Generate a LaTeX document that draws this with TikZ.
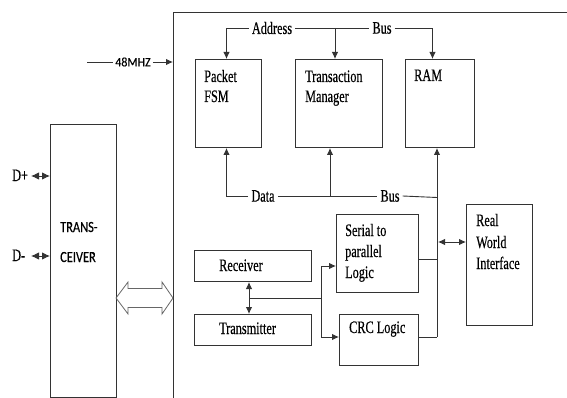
\documentclass[tikz,border=0pt]{standalone}
\usepackage{fontspec}
\setmainfont{Liberation Serif}
\newfontfamily\tnr[FakeStretch=0.7,FakeBold=0.4]{Liberation Serif}
\newfontfamily\carl[FakeStretch=0.8,FakeBold=0.3]{Carlito}
\newfontfamily\carlw[FakeStretch=0.92,FakeBold=0.3]{Carlito}
\usetikzlibrary{arrows.meta}
\begin{document}
\begin{tikzpicture}[x=1pt,y=-1pt,
  line/.style={draw=black!80, line width=0.9pt},
  box/.style={draw=black!80, line width=1pt, anchor=north west, inner sep=0pt},
  txt/.style={anchor=base west, inner sep=0pt, font=\tnr\fontsize{17.5}{20.5}\selectfont},
  buslbl/.style={anchor=center, inner sep=3pt, font=\tnr\fontsize{17.5}{20.5}\selectfont},
  arr/.style={-{Latex[length=7pt,width=6.5pt]}},
  darr/.style={{Latex[length=7pt,width=6.5pt]}-{Latex[length=7pt,width=6.5pt]}},
  sdarr/.style={{Latex[length=8pt,width=7.5pt]}-{Latex[length=8pt,width=7.5pt]}}]
\useasboundingbox (0,0) rectangle (567,398);

% outer open frame
\coordinate (frbot) at (173,398);
\coordinate (frtl) at (173,12);
\coordinate (frtr) at (567,12);
\draw[line] (frbot) -- (frtl) -- (frtr);

% boxes
\node[box, minimum width=66pt, minimum height=88pt] (pfsm) at (195,59) {};
\node[box, minimum width=87pt, minimum height=88pt] (tm) at (295,59) {};
\node[box, minimum width=69pt, minimum height=88pt] (ram) at (405,59) {};
\node[box, minimum width=82pt, minimum height=78pt] (sp) at (336,214) {};
\node[box, minimum width=79pt, minimum height=51pt] (crc) at (339,314) {};
\node[box, minimum width=117pt, minimum height=31pt] (rec) at (194,250) {};
\node[box, minimum width=117pt, minimum height=31pt] (tx) at (194,314) {};
\node[box, minimum width=66pt, minimum height=121pt] (rwi) at (466,204) {};
\node[box, minimum width=66pt, minimum height=273pt] (trx) at (50,124) {};

% box texts
\node[txt] (t1) at (204,82) {Packet};
\node[txt] (t2) at (204,102) {FSM};
\node[txt] (t3) at (305,82) {Transaction};
\node[txt] (t4) at (305,102) {Manager};
\node[txt] (t5) at (414,81) {RAM};
\node[txt] (t6) at (345,236) {Serial to};
\node[txt] (t7) at (345,257) {parallel};
\node[txt] (t8) at (345,278) {Logic};
\node[txt] (t9) at (219,271) {Receiver};
\node[txt] (t10) at (219,334) {Transmitter};
\node[txt] (t11) at (349,333) {CRC Logic};
\node[txt] (t12) at (476,226) {Real};
\node[txt] (t13) at (476,248) {World};
\node[txt] (t14) at (476,269) {Interface};
\node[anchor=base west, inner sep=0pt, font=\carl\fontsize{15.5}{18}\selectfont] (t15) at (60,232) {TRANS-};
\node[anchor=base west, inner sep=0pt, font=\carl\fontsize{15.5}{18}\selectfont] (t16) at (60,262) {CEIVER};
\node[txt] (dp) at (12,181) {D+};
\node[txt] (dm) at (12,261) {D-};

% address bus
\node[buslbl] (addr) at (272,28) {Address};
\node[buslbl] (abus) at (382,28) {Bus};
\coordinate (ab1) at (335,28);
\draw[line,arr] (addr.west) -| ([xshift=-2pt]pfsm.north);
\draw[line] (addr.east) -- (abus.west);
\draw[line,arr] (ab1) -- (ab1 |- tm.north);
\draw[line,arr] (abus.east) -| ([xshift=-7.5pt]ram.north);

% data bus
\node[buslbl] (data) at (263,196) {Data};
\node[buslbl] (dbus) at (390,196) {Bus};
\coordinate (db1) at (330,196);
\coordinate (db2) at (437,197.5);
\coordinate (ramv) at (437,337);
\draw[line,arr] (data.west) -| ([xshift=-2pt]pfsm.south);
\draw[line] (data.east) -- (dbus.west);
\draw[line,arr] (db1) -- (db1 |- tm.south);
\draw[line] (dbus.east) -- (db2);
\draw[line,arr] (ramv) -- (ramv |- ram.south);

% right side joins
\coordinate (spj) at (437,259);
\draw[line] (spj -| sp.east) -- (spj);
\draw[line] (ramv -| crc.east) -- (ramv);
\coordinate (rwij) at (438,242);
\draw[line,darr] (rwij) -- (rwij -| rwi.west);

% receiver / transmitter
\coordinate (rtx) at (249,298);
\coordinate (split) at (321,298);
\coordinate (spin) at (336,266);
\coordinate (crcin) at (339,337);
\draw[line,darr] (rtx |- rec.south) -- (rtx |- tx.north);
\draw[line] (rtx) -- (split);
\draw[line,arr] (split) |- (spin);
\draw[line,arr] (split) |- (crcin);

% 48MHZ clock
\node[anchor=center, inner sep=2pt, font=\carlw\fontsize{13}{15}\selectfont] (mhz) at (133,62) {48MHZ};
\coordinate (mhzl) at (87,62);
\coordinate (fr48) at (173,62);
\draw[line] (mhzl) -- (mhz.west);
\draw[line,arr] (mhz.east) -- (fr48);

% D+ / D- arrows
\coordinate (dpa) at (31,176);
\coordinate (dma) at (31,256);
\draw[line,sdarr] (dpa) -- (dpa -| trx.west);
\draw[line,sdarr] (dma) -- (dma -| trx.west);

% hollow double arrow between transceiver and frame
\draw[draw=black!60, line width=0.8pt, line join=miter]
  (116,298) -- (128,282) -- (128,288.5) -- (162,288.5) -- (162,282) -- (173,298)
  -- (162,314) -- (162,307.5) -- (128,307.5) -- (128,314) -- cycle;
\end{tikzpicture}
\end{document}
